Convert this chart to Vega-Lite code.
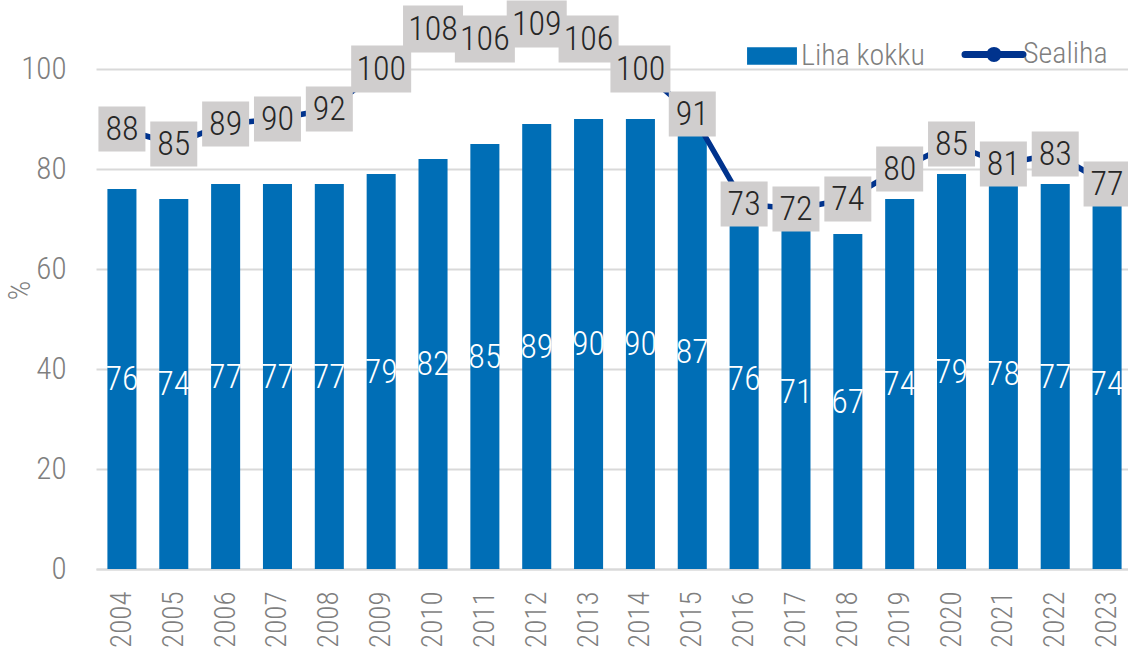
{
  "$schema": "https://vega.github.io/schema/vega-lite/v6.json",
  "width": 1037,
  "height": 569,
  "autosize": {"type": "none"},
  "padding": {"left": 96, "top": 0, "right": 0, "bottom": 84},
  "background": "white",
  "config": {
    "view": {"stroke": null},
    "font": "Roboto Condensed, Liberation Sans Narrow, Roboto",
    "axis": {"labelFont": "Roboto Condensed, Liberation Sans Narrow, Roboto", "titleFont": "Roboto Condensed, Liberation Sans Narrow, Roboto"}
  },
  "data": {
    "values": [
      {"year": "2004", "liha": 76, "seal": 88},
      {"year": "2005", "liha": 74, "seal": 85},
      {"year": "2006", "liha": 77, "seal": 89},
      {"year": "2007", "liha": 77, "seal": 90},
      {"year": "2008", "liha": 77, "seal": 92},
      {"year": "2009", "liha": 79, "seal": 100},
      {"year": "2010", "liha": 82, "seal": 108},
      {"year": "2011", "liha": 85, "seal": 106},
      {"year": "2012", "liha": 89, "seal": 109},
      {"year": "2013", "liha": 90, "seal": 106},
      {"year": "2014", "liha": 90, "seal": 100},
      {"year": "2015", "liha": 87, "seal": 91},
      {"year": "2016", "liha": 76, "seal": 73},
      {"year": "2017", "liha": 71, "seal": 72},
      {"year": "2018", "liha": 67, "seal": 74},
      {"year": "2019", "liha": 74, "seal": 80},
      {"year": "2020", "liha": 79, "seal": 85},
      {"year": "2021", "liha": 78, "seal": 81},
      {"year": "2022", "liha": 77, "seal": 83},
      {"year": "2023", "liha": 74, "seal": 77}
    ]
  },
  "encoding": {
    "x": {
      "field": "year", "type": "ordinal",
      "scale": {"paddingInner": 0.44, "paddingOuter": 0.22},
      "axis": {
        "title": null, "labelAngle": 270, "labelAlign": "right", "labelBaseline": "middle",
        "labelPadding": 22, "labelFontSize": 29, "labelColor": "#7F7F7F", "labelFontWeight": 300,
        "ticks": false, "domainColor": "#D9D9D9", "domainWidth": 2, "grid": false
      }
    }
  },
  "layer": [
    {
      "encoding": {
        "y": {
          "type": "quantitative",
          "scale": {"domain": [0, 113.8], "nice": false, "zero": true},
          "axis": {
            "values": [0, 20, 40, 60, 80, 100], "title": "%", "titleAngle": 270, "titleX": -76, "titleY": 290,
            "titleAlign": "center", "titleBaseline": "middle", "titleFontSize": 31, "titleFontWeight": 300, "titleColor": "#7F7F7F",
            "labelFontSize": 31, "labelColor": "#7F7F7F", "labelFontWeight": 300, "labelPadding": 30,
            "ticks": false, "domain": false, "gridColor": "#D9D9D9", "gridWidth": 2
          }
        }
      },
      "layer": [
        {
          "mark": {"type": "bar", "color": "#006EB6"},
          "encoding": {
            "y": {"field": "liha", "type": "quantitative"},
            "color": {"datum": "Liha kokku", "type": "nominal", "scale": {"domain": ["Liha kokku", "Sealiha"], "range": ["#006EB6", "#00338D"]},
              "legend": {
                "orient": "none", "legendX": 661, "legendY": 39, "direction": "horizontal", "title": null,
                "labelFont": "Roboto Condensed, Liberation Sans Narrow, Roboto", "labelFontSize": 30, "labelFontWeight": 300, "labelColor": "#7F7F7F",
                "symbolSize": 3364, "labelOffset": 14, "columnPadding": 26,
                "encode": {
                  "symbols": {
                    "update": {
                      "shape": {"signal": "datum.value === 'Sealiha' ? 'M-1,0L1,0M-0.14,0A0.14,0.14 0 1,0 0.14,0A0.14,0.14 0 1,0 -0.14,0Z' : 'M-0.86,-0.3L0.86,-0.3L0.86,0.3L-0.86,0.3Z'"},
                      "fill": {"signal": "datum.value === 'Sealiha' ? '#00338D' : '#006EB6'"},
                      "stroke": {"signal": "datum.value === 'Sealiha' ? '#00338D' : '#006EB6'"},
                      "strokeWidth": {"signal": "datum.value === 'Sealiha' ? 7 : 0"},
                      "strokeCap": {"value": "round"},
                      "opacity": {"value": 1},
                      "fillOpacity": {"value": 1}
                    }
                  }
                }
              }
            }
          }
        },
        {
          "mark": {"type": "line", "color": "#00338D", "strokeWidth": 5.5},
          "encoding": {
            "y": {"field": "seal", "type": "quantitative"},
            "color": {"datum": "Sealiha", "type": "nominal"}
          }
        },
        {
          "mark": {"type": "point", "filled": true, "color": "#D0CECE", "opacity": 1, "strokeWidth": 0},
          "encoding": {
            "y": {"field": "seal", "type": "quantitative"},
            "shape": {"condition": {"test": "datum.seal >= 100", "value": "M-1,-0.78L1,-0.78L1,0.78L-1,0.78Z"}, "value": "M-1,-0.96L1,-0.96L1,0.96L-1,0.96Z"},
            "size": {"condition": {"test": "datum.seal >= 100", "value": 3600}, "value": 2209}
          }
        },
        {
          "mark": {"type": "text", "color": "#262626", "fontSize": 34, "fontWeight": 300, "baseline": "middle", "align": "center", "dy": 1},
          "encoding": {
            "y": {"field": "seal", "type": "quantitative"},
            "text": {"field": "seal", "type": "quantitative"}
          }
        }
      ]
    },
    {
      "mark": {"type": "text", "color": "#FFFFFF", "fontSize": 34, "fontWeight": 300, "baseline": "middle", "align": "center", "dy": 1},
      "encoding": {
        "y": {"field": "liha", "type": "quantitative", "scale": {"domain": [0, 227.6], "nice": false}, "axis": null},
        "text": {"field": "liha", "type": "quantitative"}
      }
    }
  ],
  "resolve": {"scale": {"y": "independent"}}
}
